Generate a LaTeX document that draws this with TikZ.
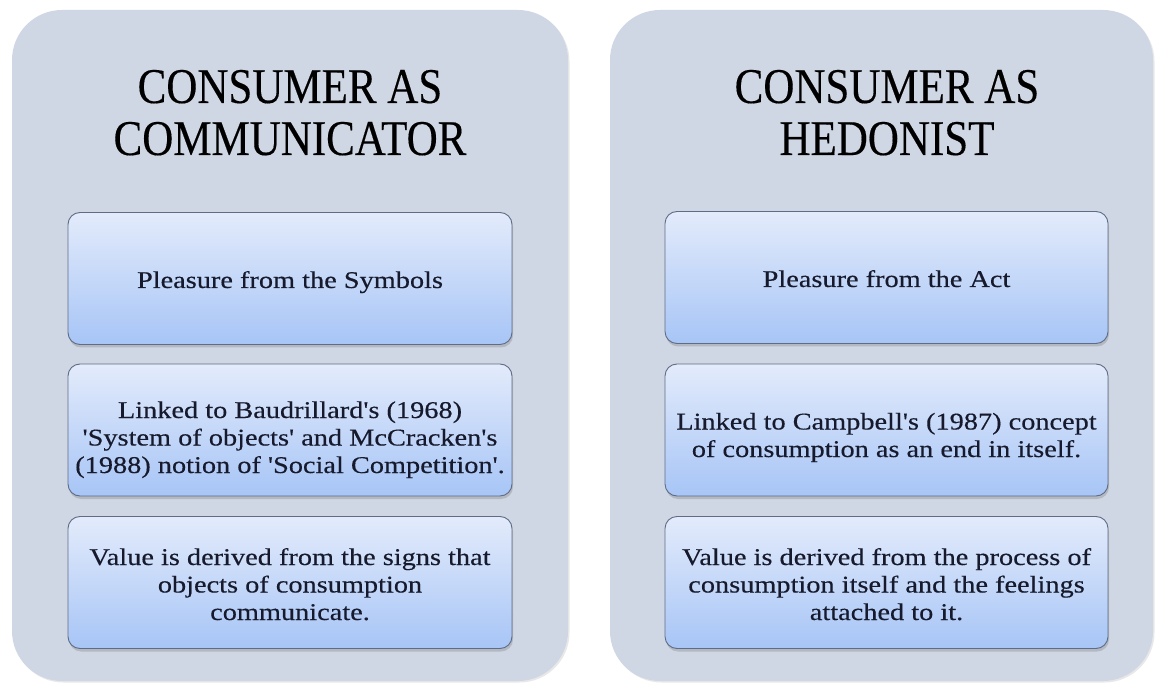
\documentclass[tikz,border=0pt]{standalone}
\usepackage{fontspec}
\setmainfont{Liberation Serif}
\newfontfamily\titlefont[FakeStretch=0.86,FakeBold=0.3]{Liberation Serif}
\newfontfamily\bodyfont[FakeStretch=1.18,FakeBold=0.35]{Liberation Serif}
\usetikzlibrary{shadows}
\definecolor{panelfill}{HTML}{D0D7E4}
\definecolor{boxtop}{HTML}{E3EBFB}
\definecolor{boxbot}{HTML}{A7C5F6}
\definecolor{boxline}{HTML}{5E6C86}
\definecolor{txt}{HTML}{161A2C}
\tikzset{
  panel/.style={rounded corners=50pt, fill=panelfill, draw=none, inner sep=0pt,
    drop shadow={opacity=0.18, shadow xshift=1.5pt, shadow yshift=-1.5pt}},
  ibox/.style={rounded corners=12pt, top color=boxtop, bottom color=boxbot,
    draw=boxline, line width=0.9pt, inner sep=0pt,
    minimum width=444pt, minimum height=132pt,
    drop shadow={opacity=0.35, shadow xshift=1pt, shadow yshift=-3pt}},
  title/.style={align=center, inner sep=0pt, text=black,
    font=\titlefont\fontsize{50}{52}\selectfont, anchor=base},
  btext/.style={align=center, inner sep=0pt, text=txt,
    font=\bodyfont\fontsize{24}{27.5}\selectfont, anchor=base}
}
\begin{document}
\begin{tikzpicture}[x=1pt, y=-1pt]
\useasboundingbox[fill=white] (0,0) rectangle (1156,684);
% panels
\node[panel, minimum width=556pt, minimum height=671pt] (lp) at (290,345.5) {};
\node[panel, minimum width=543pt, minimum height=671pt] (rp) at (881.5,345.5) {};
% titles
\node[title] (lt) at (290,155) {CONSUMER AS\\COMMUNICATOR};
\node[title] (rt) at (887,155) {CONSUMER AS\\HEDONIST};
% left boxes
\node[ibox] (l1) at (290,278.5) {};
\node[ibox] (l2) at (290,430) {};
\node[ibox] (l3) at (290,582.5) {};
\node[btext] (l1t) at (290,288) {Pleasure from the Symbols};
\node[btext] (l2t) at (290,473) {Linked to Baudrillard's (1968)\\'System of objects' and McCracken's\\(1988) notion of 'Social Competition'.};
\node[btext] (l3t) at (290,620) {Value is derived from the signs that\\objects of consumption\\communicate.};
% right boxes
\node[ibox, minimum width=443pt] (r1) at (886.5,277.5) {};
\node[ibox, minimum width=443pt] (r2) at (886.5,430) {};
\node[ibox, minimum width=443pt] (r3) at (886.5,582.5) {};
\node[btext] (r1t) at (886.5,287) {Pleasure from the Act};
\node[btext] (r2t) at (886.5,457) {Linked to Campbell's (1987) concept\\of consumption as an end in itself.};
\node[btext] (r3t) at (886.5,620) {Value is derived from the process of\\consumption itself and the feelings\\attached to it.};
\end{tikzpicture}
\end{document}
